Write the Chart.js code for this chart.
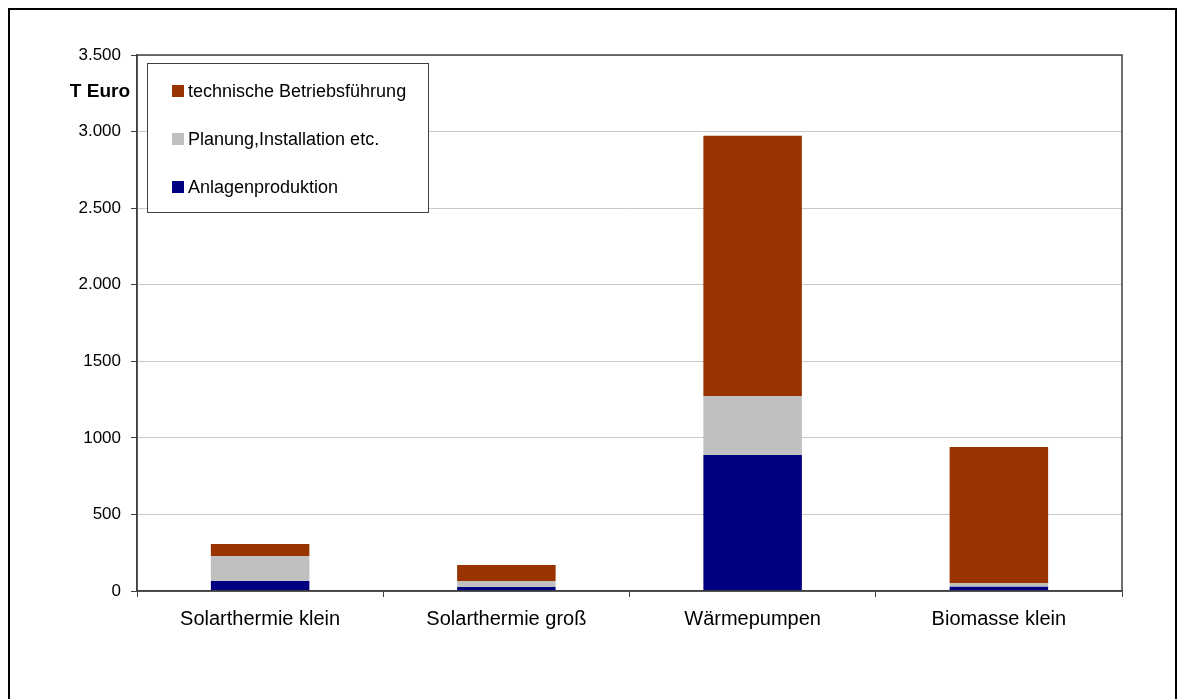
<!DOCTYPE html>
<html>
<head>
<meta charset="utf-8">
<script src="https://cdn.jsdelivr.net/npm/chart.js@4"></script>
<style>
  html, body { margin: 0; padding: 0; background: #fff; }
  #wrap { width: 1184px; height: 699px; }
</style>
</head>
<body>
<div id="wrap"><canvas id="kosten" width="1184" height="699"></canvas></div>
<script>
/* Kosten je Technologie (T Euro) */
const kategorien = ["Solarthermie klein", "Solarthermie groß", "Wärmepumpen", "Biomasse klein"];
const anlagenproduktion = [65, 26, 888, 28];
const planungInstallation = [164, 39, 386, 24];
const betriebsfuehrung = [78, 105, 1698, 888];
const yTickLabels = ["0", "500", "1000", "1500", "2.000", "2.500", "3.000", "3.500"];

const schrift = "'Liberation Sans', Arial, sans-serif";

/* Rahmen, Plotrahmen, Legende und Achsentitel */
const extras = {
  id: "extras",
  afterDraw(chart) {
    const ctx = chart.ctx;
    const a = chart.chartArea;
    ctx.save();
    // äußerer Rahmen
    ctx.strokeStyle = "#000";
    ctx.lineWidth = 2;
    ctx.strokeRect(9, 9, 1167, 720);
    // Plotrahmen
    ctx.strokeStyle = "#404040";
    ctx.lineWidth = 1.5;
    ctx.strokeRect(a.left, a.top, a.right - a.left, a.bottom - a.top);
    // Achsentitel
    ctx.fillStyle = "#000";
    ctx.font = "bold 19px " + schrift;
    ctx.textAlign = "right";
    ctx.textBaseline = "middle";
    ctx.fillText("T Euro", 130, 92);
    // Legende
    ctx.fillStyle = "#fff";
    ctx.fillRect(147, 63, 281, 149);
    ctx.strokeStyle = "#404040";
    ctx.lineWidth = 1;
    ctx.strokeRect(147.5, 63.5, 281, 149);
    ctx.font = "18px " + schrift;
    ctx.textAlign = "left";
    const ds = chart.data.datasets.slice().reverse();
    ds.forEach((d, i) => {
      const y = 91 + i * 48;
      ctx.fillStyle = d.backgroundColor;
      ctx.fillRect(172, y - 6, 12, 12);
      ctx.fillStyle = "#000";
      ctx.fillText(d.label, 188, y + 1);
    });
    ctx.restore();
  },
};

new Chart(document.getElementById("kosten"), {
  type: "bar",
  data: {
    labels: kategorien,
    datasets: [
      { label: "Anlagenproduktion", data: anlagenproduktion, backgroundColor: "#000080" },
      { label: "Planung,Installation etc.", data: planungInstallation, backgroundColor: "#c0c0c0" },
      { label: "technische Betriebsführung", data: betriebsfuehrung, backgroundColor: "#993300" },
    ],
  },
  options: {
    responsive: false,
    animation: false,
    layout: { padding: { left: 0, top: 55, right: 62, bottom: 0 } },
    datasets: { bar: { barPercentage: 0.4, categoryPercentage: 1.0 } },
    plugins: { legend: { display: false }, tooltip: { enabled: false } },
    scales: {
      x: {
        stacked: true,
        afterFit: (s) => { s.height = 108; },
        grid: { offset: true, drawOnChartArea: false, drawTicks: true, tickLength: 6, tickColor: "#404040" },
        border: { color: "#404040", width: 1.5 },
        ticks: { color: "#000", font: { family: schrift, size: 20 }, padding: 10 },
      },
      y: {
        stacked: true,
        min: 0,
        max: 3500,
        afterFit: (s) => { s.width = 137; },
        grid: { color: "#c8c8c8", drawTicks: true, tickLength: 6, tickColor: "#404040" },
        border: { color: "#404040", width: 1.5 },
        ticks: {
          stepSize: 500,
          color: "#000",
          font: { family: schrift, size: 17 },
          padding: 10,
          callback: (v, i) => yTickLabels[i],
        },
      },
    },
  },
  plugins: [extras],
});
</script>
</body>
</html>
